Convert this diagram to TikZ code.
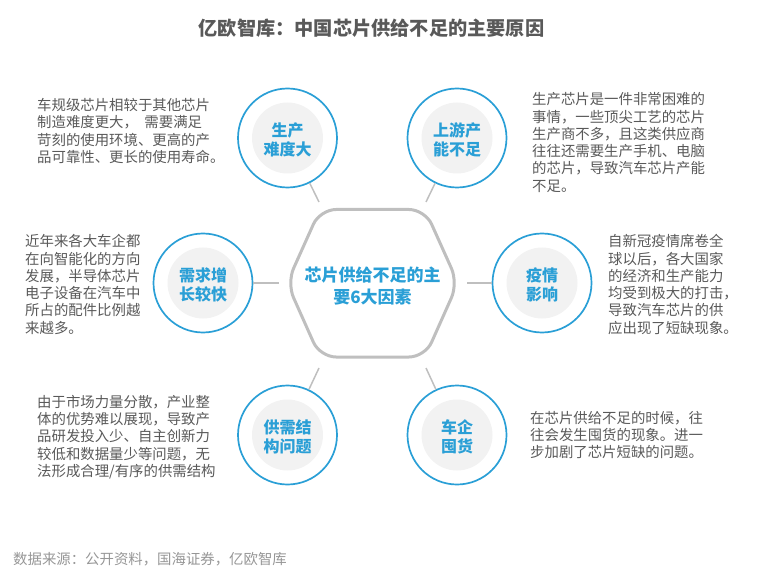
\documentclass[tikz,border=0pt]{standalone}
\usepackage{fontspec}
\setmainfont{Noto Sans CJK SC}
\usepackage{tikz}
\definecolor{ringblue}{HTML}{2A9FD6}
\definecolor{coregray}{HTML}{F2F2F2}
\definecolor{linegray}{HTML}{BFBFBF}
\definecolor{bodygray}{HTML}{595959}
\tikzset{
    ringnode/.style={draw=ringblue, circle, line width=1.7pt, minimum size=99pt, inner sep=0pt},
    corenode/.style={fill=coregray, circle, minimum size=71pt, inner sep=0pt, align=center, text=ringblue, font=\fontsize{16}{19.5}\selectfont\bfseries, execute at begin node={\rule{0pt}{37.5pt}}},
    spoke/.style={draw=linegray, line width=1.5pt},
    bodytext/.style={anchor=west, align=left, inner sep=0pt, text=bodygray, font=\fontsize{14.4}{17.3}\selectfont},
}

\begin{document}
\begin{tikzpicture}[x=1pt, y=-1pt]
    \useasboundingbox (0,0) rectangle (765,585);
    \node[font=\fontsize{19.2}{23}\selectfont\bfseries, text=bodygray, inner sep=0pt] (title) at (371.5,28) {亿欧智库：中国芯片供给不足的主要原因};

    \draw[linegray, line width=3pt, rounded corners=16pt] (287,283) -- (320,209.5) -- (425,209.5) -- (458,283) -- (425,357) -- (320,357) -- cycle;
    \node[align=center, inner sep=0pt, text=ringblue, font=\fontsize{17}{21.5}\selectfont\bfseries] (hexlabel) at (372.5,286) {芯片供给不足的主\\要6大因素};

    \node[ringnode] (scRing) at (287.5,138) {};
    \node[corenode] (scCore) at (scRing) {生产\\难度大};
    \node[ringnode] (syRing) at (457,138) {};
    \node[corenode] (syCore) at (syRing) {上游产\\能不足};
    \node[ringnode] (xqRing) at (203,283) {};
    \node[corenode] (xqCore) at (xqRing) {需求增\\长较快};
    \node[ringnode] (yqRing) at (542,283) {};
    \node[corenode] (yqCore) at (yqRing) {疫情\\影响};
    \node[ringnode] (gxRing) at (287.5,435) {};
    \node[corenode] (gxCore) at (gxRing) {供需结\\构问题};
    \node[ringnode] (cqRing) at (457,435) {};
    \node[corenode] (cqCore) at (cqRing) {车企\\囤货};

    \coordinate (scEnd) at (319,202);
    \coordinate (syEnd) at (426,202);
    \coordinate (xqEnd) at (279,283);
    \coordinate (yqEnd) at (467,283);
    \coordinate (gxEnd) at (319,368);
    \coordinate (cqEnd) at (426,368);
    \draw[spoke] (scRing) -- (scEnd);
    \draw[spoke] (syRing) -- (syEnd);
    \draw[spoke] (xqRing) -- (xqEnd);
    \draw[spoke] (yqRing) -- (yqEnd);
    \draw[spoke] (gxRing) -- (gxEnd);
    \draw[spoke] (cqRing) -- (cqEnd);

    \node[bodytext] (scText) at (37,131) {车规级芯片相较于其他芯片\\制造难度更大，\ \ 需要满足\\苛刻的使用环境、更高的产\\品可靠性、更长的使用寿命。};
    \node[bodytext] (xqText) at (25,284.5) {近年来各大车企都\\在向智能化的方向\\发展，半导体芯片\\电子设备在汽车中\\所占的配件比例越\\来越多。};
    \node[bodytext] (gxText) at (37,437) {由于市场力量分散，产业整\\体的优势难以展现，导致产\\品研发投入少、自主创新力\\较低和数据量少等问题，无\\法形成合理/有序的供需结构};
    \node[bodytext] (syText) at (532,142.5) {生产芯片是一件非常困难的\\事情，一些顶尖工艺的芯片\\生产商不多，且这类供应商\\往往还需要生产手机、电脑\\的芯片，导致汽车芯片产能\\不足。};
    \node[bodytext] (yqText) at (608,284.5) {自新冠疫情席卷全\\球以后，各大国家\\的经济和生产能力\\均受到极大的打击，\\导致汽车芯片的供\\应出现了短缺现象。};
    \node[bodytext] (cqText) at (530,435) {在芯片供给不足的时候，往\\往会发生囤货的现象。进一\\步加剧了芯片短缺的问题。};

    \node[anchor=west, inner sep=0pt, text=linegray!60!bodygray, font=\fontsize{14.4}{17}\selectfont] (source) at (13,559) {数据来源：公开资料，国海证券，亿欧智库};
\end{tikzpicture}
\end{document}
